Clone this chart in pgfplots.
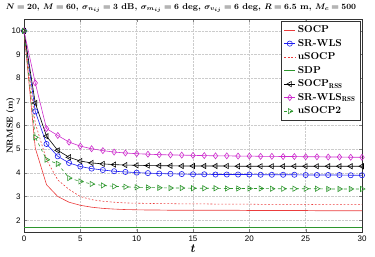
\documentclass[border=0pt]{standalone}
\usepackage{pgfplots}
\pgfplotsset{compat=1.18}
\usepackage{bm}
\usepackage{fontspec}
\newfontfamily\tickfont{Liberation Sans}

\definecolor{cred}{RGB}{235,60,60}
\definecolor{cblue}{RGB}{30,30,240}
\definecolor{cmag}{RGB}{205,45,205}
\definecolor{cgreen}{RGB}{45,150,45}

\pgfplotstableread{
t socp srwls usocp sdp socprss srwlsrss usocptwo
0  10.00 10.00 10.00 1.70 10.00 10.00 10.00
1  5.05  6.60  6.10  1.70 6.95  7.80  5.50
2  3.50  5.22  4.55  1.70 5.55  5.87  4.56
3  3.00  4.70  3.70  1.70 4.95  5.58  4.38
4  2.76  4.42  3.30  1.70 4.66  5.30  3.78
5  2.63  4.27  3.00  1.70 4.50  5.13  3.64
6  2.55  4.18  2.87  1.70 4.42  5.02  3.53
7  2.50  4.12  2.80  1.70 4.38  4.94  3.47
8  2.47  4.07  2.76  1.70 4.35  4.88  3.43
9  2.45  4.04  2.73  1.70 4.33  4.84  3.41
10 2.44  4.01  2.72  1.70 4.32  4.81  3.39
11 2.43  3.99  2.71  1.70 4.31  4.79  3.38
12 2.43  3.97  2.70  1.70 4.30  4.77  3.37
13 2.42  3.96  2.70  1.70 4.30  4.76  3.36
14 2.42  3.95  2.69  1.70 4.29  4.75  3.36
15 2.42  3.94  2.69  1.70 4.29  4.74  3.35
16 2.42  3.94  2.69  1.70 4.29  4.73  3.35
17 2.42  3.93  2.68  1.70 4.29  4.72  3.35
18 2.42  3.93  2.68  1.70 4.29  4.72  3.34
19 2.42  3.93  2.68  1.70 4.28  4.71  3.34
20 2.41  3.93  2.68  1.70 4.28  4.71  3.34
21 2.41  3.92  2.67  1.70 4.28  4.70  3.34
22 2.41  3.92  2.67  1.70 4.28  4.70  3.33
23 2.41  3.92  2.67  1.70 4.28  4.69  3.33
24 2.41  3.92  2.67  1.70 4.28  4.69  3.33
25 2.41  3.91  2.67  1.70 4.28  4.68  3.33
26 2.40  3.91  2.66  1.70 4.28  4.68  3.33
27 2.40  3.91  2.66  1.70 4.28  4.67  3.32
28 2.40  3.91  2.66  1.70 4.28  4.67  3.32
29 2.40  3.90  2.66  1.70 4.28  4.66  3.32
30 2.40  3.90  2.66  1.70 4.28  4.66  3.32
}\nrmse

\begin{document}
\begin{tikzpicture}
\begin{axis}[
  scale only axis,
  width=338pt, height=213pt,
  xmin=0, xmax=30, ymin=1.5, ymax=10.5,
  xtick={0,5,...,30}, ytick={2,3,...,10},
  grid=major,
  grid style={densely dotted, gray!40},
  tick align=inside,
  major tick length=3pt,
  ticklabel style={font=\tickfont\footnotesize},
  /pgf/number format/assume math mode=true,
  axis line style={thick, black!80},
  xlabel={\large$\bm{t}$},
  xlabel style={yshift=3pt},
  ylabel={\fontsize{8.5}{10}\selectfont\bfseries NRMSE (m)},
  ylabel shift=-10pt,
  title={\fontsize{8.45}{10.5}\selectfont\bfseries $\bm{N=20}$, $\bm{M=60}$, $\bm{\sigma_{n_{ij}}=3}$ dB, $\bm{\sigma_{m_{ij}}=6}$ deg, $\bm{\sigma_{v_{ij}}=6}$ deg, $\bm{R=6.5}$ m, $\bm{M_c=500}$},
  title style={xshift=-12pt, yshift=-3pt},
  legend style={at={(0.996,0.99)}, anchor=north east,
    font=\bfseries\normalsize, draw=black!80, fill=white,
    nodes={text height=8pt, text depth=2.5pt, inner ysep=1.5pt}},
  legend cell align=left,
  legend image code/.code={%
    \draw[mark repeat=2, mark phase=2] plot coordinates {(0cm,0cm) (0.2cm,0cm) (0.4cm,0cm)};},
]
\addplot[semithick, cred, no markers] table[x=t, y=socp] {\nrmse};
\addlegendentry{SOCP}
\addplot[semithick, cblue, mark=o, mark size=2.6pt] table[x=t, y=srwls] {\nrmse};
\addlegendentry{SR-WLS}
\addplot[semithick, cred, dash pattern=on 1.8pt off 1.8pt, no markers] table[x=t, y=usocp] {\nrmse};
\addlegendentry{uSOCP}
\addplot[semithick, cgreen, no markers] table[x=t, y=sdp] {\nrmse};
\addlegendentry{SDP}
\addplot[semithick, black, mark=triangle, mark size=3pt, mark options={rotate=90}] table[x=t, y=socprss] {\nrmse};
\addlegendentry{SOCP$_{\mathbf{RSS}}$}
\addplot[semithick, cmag, mark=diamond, mark size=3pt] table[x=t, y=srwlsrss] {\nrmse};
\addlegendentry{SR-WLS$_{\mathbf{RSS}}$}
\addplot[semithick, cgreen, dashed, mark=triangle, mark size=3pt, mark options={rotate=-90, solid}] table[x=t, y=usocptwo] {\nrmse};
\addlegendentry{uSOCP2}
\end{axis}
% white margin round the axis box
\path ([xshift=-24pt]current axis.south west) ([xshift=13pt]current axis.north east);
\end{tikzpicture}
\end{document}
